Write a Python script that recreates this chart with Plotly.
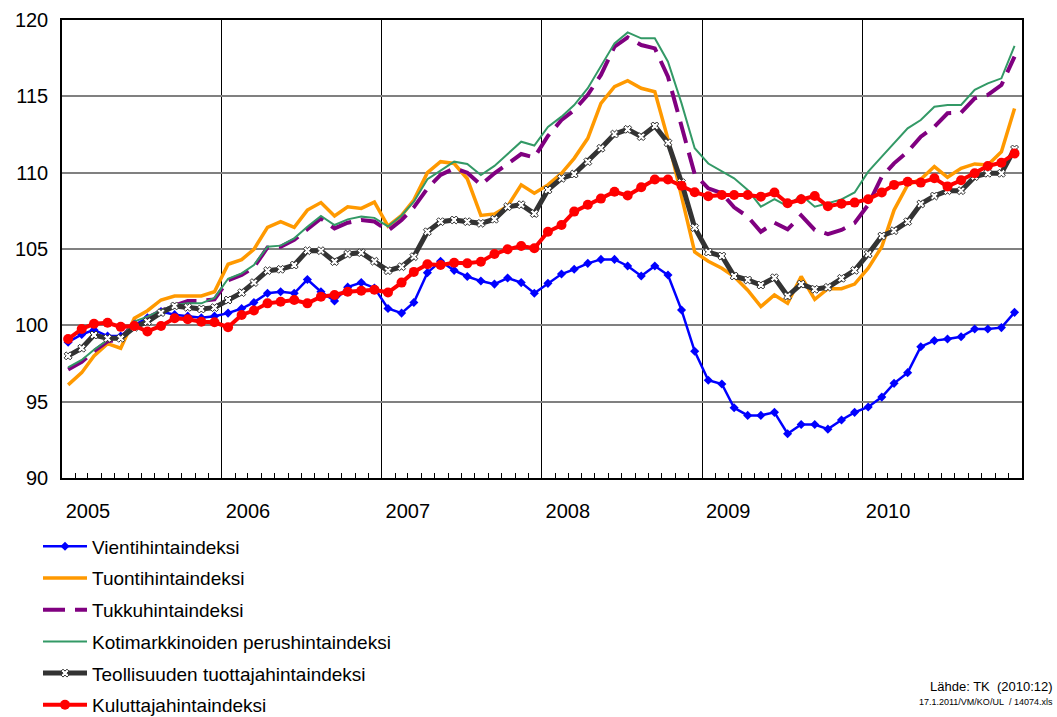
import pandas as pd
import plotly.graph_objects as go

# kuukaudet 2005-01 ... 2010-12
months = pd.date_range("2005-01-01", periods=72, freq="MS") + pd.Timedelta(days=14)
years = ["2005", "2006", "2007", "2008", "2009", "2010"]

vienti = [98.9, 99.4, 99.7, 99.3, 99.3, 100.0, 100.5, 100.9, 100.7, 100.6, 100.5, 100.6,
          100.8, 101.1, 101.5, 102.1, 102.2, 102.1, 103.0, 102.2, 101.6, 102.5, 102.8, 102.45,
          101.1, 100.8, 101.5, 103.45, 104.2, 103.6, 103.2, 102.9, 102.7, 103.1, 102.8, 102.1,
          102.75, 103.36, 103.67, 104.06, 104.32, 104.32, 103.89, 103.23, 103.89, 103.3, 101.0, 98.3,
          96.4, 96.16, 94.6, 94.1, 94.1, 94.3, 92.9, 93.5, 93.5, 93.2, 93.8, 94.3,
          94.65, 95.3, 96.2, 96.9, 98.6, 99.0, 99.1, 99.25, 99.76, 99.76, 99.85, 100.85]

tuonti = [96.1, 96.9, 98.0, 98.8, 98.5, 100.46, 100.96, 101.66, 101.92, 101.92, 101.92, 102.2,
          104.0, 104.3, 104.98, 106.42, 106.79, 106.42, 107.55, 108.04, 107.16, 107.77, 107.66, 108.07,
          106.5, 107.2, 108.2, 110.0, 110.72, 110.6, 109.6, 107.2, 107.3, 107.8, 109.2, 108.65,
          109.2, 109.96, 110.94, 112.25, 114.54, 115.63, 116.03, 115.53, 115.3, 112.2, 108.4, 104.8,
          104.2, 103.74, 103.2, 102.3, 101.23, 101.99, 101.44, 103.2, 101.7, 102.4, 102.4, 102.7,
          103.74, 105.15, 107.55, 109.2, 109.57, 110.4, 109.7, 110.28, 110.57, 110.5, 111.37, 114.2]

tukku = [97.1, 97.6, 98.3, 98.95, 99.1, 100.2, 100.5, 100.95, 101.3, 101.6, 101.6, 101.7,
         102.95, 103.3, 103.8, 105.1, 105.15, 105.6, 106.3, 107.0, 106.35, 106.72, 106.9, 106.8,
         106.2, 106.9, 107.73, 108.97, 109.85, 110.28, 110.0, 109.2, 109.96, 110.61, 111.22, 111.0,
         112.4, 113.45, 114.1, 115.1, 116.4, 118.25, 118.86, 118.36, 118.14, 116.29, 113.0, 109.9,
         108.97, 108.65, 107.73, 107.12, 106.13, 106.72, 106.29, 107.2, 106.25, 105.98, 106.25, 106.7,
         107.9, 109.74, 110.61, 111.37, 112.36, 113.0, 113.89, 113.93, 114.87, 115.09, 115.74, 117.6]

kotimarkkina = [97.25, 97.73, 98.4, 99.04, 99.15, 100.24, 100.57, 101.0, 101.33, 101.44, 101.44, 101.8,
                103.05, 103.4, 103.95, 105.15, 105.22, 105.7, 106.46, 107.16, 106.57, 106.94, 107.12, 107.04,
                106.48, 107.2, 108.1, 109.57, 110.13, 110.72, 110.57, 109.85, 110.44, 111.22, 112.03, 111.78,
                113.0, 113.67, 114.43, 115.53, 116.94, 118.47, 119.19, 118.8, 118.8, 117.27, 114.54, 111.6,
                110.6, 110.07, 109.63, 108.87, 107.77, 108.26, 107.8, 108.54, 107.77, 108.0, 108.25, 108.7,
                110.07, 111.05, 111.92, 112.9, 113.45, 114.32, 114.43, 114.43, 115.42, 115.85, 116.18, 118.3]

teollisuus = [98.0, 98.5, 99.37, 99.15, 99.15, 99.87, 100.24, 100.83, 101.27, 101.18, 101.07, 101.16,
              101.66, 102.14, 102.8, 103.58, 103.67, 103.95, 104.89, 104.89, 104.17, 104.67, 104.76, 104.2,
              103.58, 103.84, 104.5, 106.13, 106.79, 106.9, 106.79, 106.68, 106.95, 107.77, 107.9, 107.32,
              108.87, 109.63, 109.91, 110.72, 111.6, 112.53, 112.84, 112.36, 113.06, 111.96, 109.35, 106.4,
              104.8, 104.54, 103.23, 102.97, 102.64, 103.12, 101.92, 102.7, 102.36, 102.49, 103.08, 103.6,
              104.67, 105.85, 106.2, 106.79, 107.95, 108.47, 108.82, 108.82, 109.74, 109.96, 109.96, 111.55]

kuluttaja = [99.1, 99.76, 100.1, 100.17, 99.9, 99.96, 99.6, 99.96, 100.46, 100.4, 100.24, 100.2,
             99.88, 100.68, 100.97, 101.44, 101.55, 101.66, 101.44, 101.88, 101.99, 102.2, 102.27, 102.33,
             102.15, 102.8, 103.5, 104.0, 103.95, 104.1, 104.06, 104.17, 104.67, 104.98, 105.2, 105.05,
             106.13, 106.57, 107.45, 107.9, 108.3, 108.75, 108.5, 109.05, 109.55, 109.55, 109.15, 108.72,
             108.45, 108.54, 108.54, 108.54, 108.43, 108.7, 108.0, 108.26, 108.47, 107.8, 107.97, 108.04,
             108.26, 108.7, 109.2, 109.4, 109.35, 109.63, 109.1, 109.5, 109.96, 110.44, 110.65, 111.25]

FONT = "Liberation Sans, Arial, sans-serif"

fig = go.Figure()

fig.add_trace(go.Scatter(x=months, y=vienti, name="Vientihintaindeksi", legendgroup="a",
                         mode="lines+markers", line=dict(color="#0000FF", width=2.5),
                         marker=dict(symbol="diamond", size=7, color="#0000FF")))
fig.add_trace(go.Scatter(x=months, y=tuonti, name="Tuontihintaindeksi", legendgroup="b",
                         mode="lines", line=dict(color="#FF9900", width=3.5)))
fig.add_trace(go.Scatter(x=months, y=tukku, name="Tukkuhintaindeksi", legendgroup="c",
                         mode="lines", line=dict(color="#800080", width=4, dash="22px,10px")))
fig.add_trace(go.Scatter(x=months, y=kotimarkkina, name="Kotimarkkinoiden perushintaindeksi",
                         legendgroup="d", mode="lines", line=dict(color="#339966", width=2)))
fig.add_trace(go.Scatter(x=months, y=teollisuus, name="Teollisuuden tuottajahintaindeksi",
                         legendgroup="e", mode="lines+markers", line=dict(color="#333333", width=5),
                         marker=dict(symbol="x", size=7, color="white",
                                     line=dict(color="#333333", width=1))))
fig.add_trace(go.Scatter(x=months, y=kuluttaja, name="Kuluttajahintaindeksi", legendgroup="f",
                         mode="lines+markers", line=dict(color="#FF0000", width=4),
                         marker=dict(symbol="circle", size=10, color="#FF0000")))

year_starts = pd.to_datetime([y + "-01-01" for y in years])

fig.update_xaxes(
    range=["2005-01-01", "2011-01-01"],
    tickmode="array", tickvals=year_starts, ticktext=years,
    ticks="inside", ticklen=5, tickcolor="black",
    ticklabelshift=26, ticklabelstandoff=14,
    tickfont=dict(family=FONT, size=20, color="black"),
    showgrid=True, gridcolor="black", gridwidth=1.2,
    showline=True, linecolor="black", linewidth=1.5, mirror=True,
    minor=dict(tickmode="linear", tick0="2005-01-01", dtick="M1", ticks="inside",
               ticklen=5, tickcolor="black", showgrid=False),
    zeroline=False,
)
fig.update_yaxes(
    range=[90, 120], dtick=5, tick0=90,
    tickfont=dict(family=FONT, size=20, color="black"),
    ticks="", ticklabelstandoff=8,
    showgrid=True, gridcolor="#808080", gridwidth=2,
    showline=True, linecolor="black", linewidth=1.5, mirror=True,
    zeroline=False,
)

fig.add_annotation(text="Lähde: TK\u00a0\u00a0(2010:12)", xref="paper", yref="paper",
                   x=1.034, y=-0.456, xanchor="right", yanchor="middle", showarrow=False,
                   font=dict(family=FONT, size=13, color="black"))
fig.add_annotation(text="17.1.2011/VM/KO/UL\u00a0\u00a0/ 14074.xls", xref="paper", yref="paper",
                   x=1.034, y=-0.49, xanchor="right", yanchor="middle", showarrow=False,
                   font=dict(family=FONT, size=9, color="black"))

fig.update_layout(
    width=1057, height=717,
    margin=dict(l=62, r=35, t=20, b=239, autoexpand=False),
    paper_bgcolor="white", plot_bgcolor="white",
    font=dict(family=FONT, color="black"),
    showlegend=True,
    legend=dict(orientation="v", x=-0.025, xanchor="left", y=-0.108, yanchor="top",
                font=dict(family=FONT, size=19, color="black"),
                tracegroupgap=4, itemwidth=44, bgcolor="rgba(0,0,0,0)"),
)

fig.write_html("out.html", config={"displayModeBar": False},
               post_script="document.body.style.margin='0';")
